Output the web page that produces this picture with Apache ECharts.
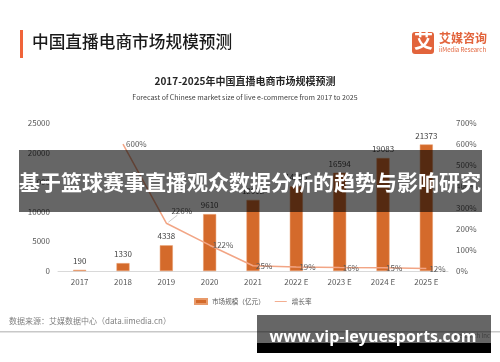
<!DOCTYPE html>
<html><head><meta charset="utf-8">
<script src="https://cdn.jsdelivr.net/npm/echarts@6/dist/echarts.min.js"></script>
<style>html,body{margin:0;padding:0;background:#fff}#c{width:500px;height:362px}</style>
</head><body><div id="c"></div>
<script>
var categories = ['2017','2018','2019','2020','2021','2022 E','2023 E','2024 E','2025 E'];
var marketSize = [190, 1330, 4338, 9610, 12012, 14295, 16594, 19083, 21373];
var growthRate = [null, 600, 226, 122, 25, 19, 16, 15, 12];
var leftTicks = [0, 5000, 10000, 15000, 20000, 25000];
var rightTicks = [0, 100, 200, 300, 400, 500, 600, 700];

var FONT = '"Noto Sans CJK SC", "Noto Sans", sans-serif';
var chart = echarts.init(document.getElementById('c'), null, {renderer:'canvas'});

var lineData = growthRate.map(function(v, i){
  if (v === null) return '-';
  var item = {value: v};
  if (i === 2) {
    item.label = {position: 'right', offset: [2, -12]};
  }
  return item;
});

var graphics = [
  {type: 'rect', shape: {x: 20, y: 30, width: 3, height: 28}, style: {fill: '#F0643A'}},
  {type: 'text', left: 32, top: 33, style: {text: '中国直播电商市场规模预测', font: '500 16.7px ' + FONT, fill: '#1a1a1a'}},
  {type: 'rect', shape: {x: 412, y: 32, width: 22, height: 22, r: 3}, style: {fill: '#E2643C'}},
  {type: 'text', left: 414, top: 31, style: {text: '艾', font: 'bold 19px ' + FONT, fill: '#fff'}},
  {type: 'text', left: 439, top: 32, style: {text: '艾媒咨询', font: 'bold 12px ' + FONT, fill: '#E2643C'}},
  {type: 'text', left: 439, top: 47, style: {text: 'iiMedia Research', font: '6px ' + FONT, fill: '#E2643C'}},
  {type: 'text', x: 245, y: 81, style: {text: '2017-2025年中国直播电商市场规模预测', font: 'bold 10px ' + FONT, fill: '#262626', textAlign: 'center', textVerticalAlign: 'middle'}},
  {type: 'text', x: 245, y: 97, style: {text: 'Forecast of Chinese market size of live e-commerce from 2017 to 2025', font: '7px ' + FONT, fill: '#404040', textAlign: 'center', textVerticalAlign: 'middle'}},
  {type: 'text', left: 9, top: 317, style: {text: '数据来源：艾媒数据中心（data.iimedia.cn）', font: '8px ' + FONT, fill: '#7F7F7F'}},
  {type: 'rect', shape: {x: 0, y: 331, width: 500, height: 1.5}, style: {fill: '#C8C8C8'}},
  {type: 'text', x: 490, y: 336, style: {text: 'Research Inc', font: '6px ' + FONT, fill: '#999', textAlign: 'right', textVerticalAlign: 'middle'}},
  {type: 'rect', z: 100, shape: {x: 19, y: 150, width: 463, height: 62}, style: {fill: 'rgba(0,0,0,0.6)'}},
  {type: 'text', z: 101, x: 250, y: 182, style: {text: '基于篮球赛事直播观众数据分析的趋势与影响研究', font: 'bold 21px ' + FONT, fill: '#fff', textAlign: 'center', textVerticalAlign: 'middle'}},
  {type: 'rect', z: 100, shape: {x: 257, y: 315, width: 234, height: 28}, style: {fill: 'rgba(0,0,0,0.6)'}},
  {type: 'rect', z: 100, shape: {x: 257, y: 343, width: 234, height: 10}, style: {fill: '#000'}},
  {type: 'text', z: 101, x: 373, y: 337, style: {text: 'www.vip-leyuesports.com', font: 'bold 16px "Open Sans", "DejaVu Sans", sans-serif', fill: '#fff', textAlign: 'center', textVerticalAlign: 'middle'}}
];

chart.setOption({
  animation: false,
  textStyle: {fontFamily: FONT},
  grid: {left: 58, right: 52, top: 123, bottom: 91},
  legend: {
    bottom: 57, left: 194, itemGap: 10, padding: 0,
    textStyle: {fontSize: 6.6, color: '#595959', fontFamily: FONT},
    data: [
      {name: '市场规模（亿元）', icon: 'rect', itemStyle: {color: '#D46A2B'}},
      {name: '增长率', icon: 'path://M0,0 L20,0 L20,1.5 L0,1.5 Z', itemStyle: {color: '#F2A585'}}
    ],
    itemWidth: 12, itemHeight: 5
  },
  xAxis: {
    type: 'category', data: categories,
    axisLine: {lineStyle: {color: '#D9D9D9', width: 1}},
    axisTick: {show: false},
    axisLabel: {fontSize: 8, color: '#595959', margin: 7, fontFamily: FONT}
  },
  yAxis: [
    {type: 'value', min: 0, max: 25000, interval: 5000,
     splitLine: {show: false}, axisLine: {show: false}, axisTick: {show: false},
     axisLabel: {fontSize: 8, color: '#595959', margin: 8, fontFamily: FONT,
                 formatter: function(v){ return String(v); }}},
    {type: 'value', min: 0, max: 700, interval: 100,
     splitLine: {show: false}, axisLine: {show: false}, axisTick: {show: false},
     axisLabel: {fontSize: 8, color: '#595959', margin: 8, formatter: '{value}%', fontFamily: FONT}}
  ],
  series: [
    {name: '市场规模（亿元）', type: 'bar', data: marketSize, barWidth: 13,
     itemStyle: {color: '#D46A2B', borderColor: '#E89A6A', borderWidth: 0.5},
     label: {show: true, position: 'top', fontSize: 8, color: '#404040', distance: 5, fontFamily: FONT}},
    {name: '增长率', type: 'line', yAxisIndex: 1, data: lineData,
     symbol: 'circle', symbolSize: 0.1, showSymbol: true,
     lineStyle: {color: '#F2A585', width: 1.5},
     itemStyle: {color: '#F2A585', borderWidth: 0},
     label: {show: true, position: 'right', fontSize: 8, color: '#595959', distance: 3,
             formatter: '{c}%', fontFamily: FONT}
    }
  ],
  graphic: graphics
});

// leader line from the 2019 growth point toward its label
var p = chart.convertToPixel({xAxisIndex: 0, yAxisIndex: 1}, [categories[2], growthRate[2]]);
graphics.push({type: 'line', shape: {x1: p[0] + 2, y1: p[1] - 1, x2: p[0] + 11, y2: p[1] - 8},
  style: {stroke: '#BFBFBF', lineWidth: 0.8}});
chart.setOption({graphic: graphics});
</script></body></html>
